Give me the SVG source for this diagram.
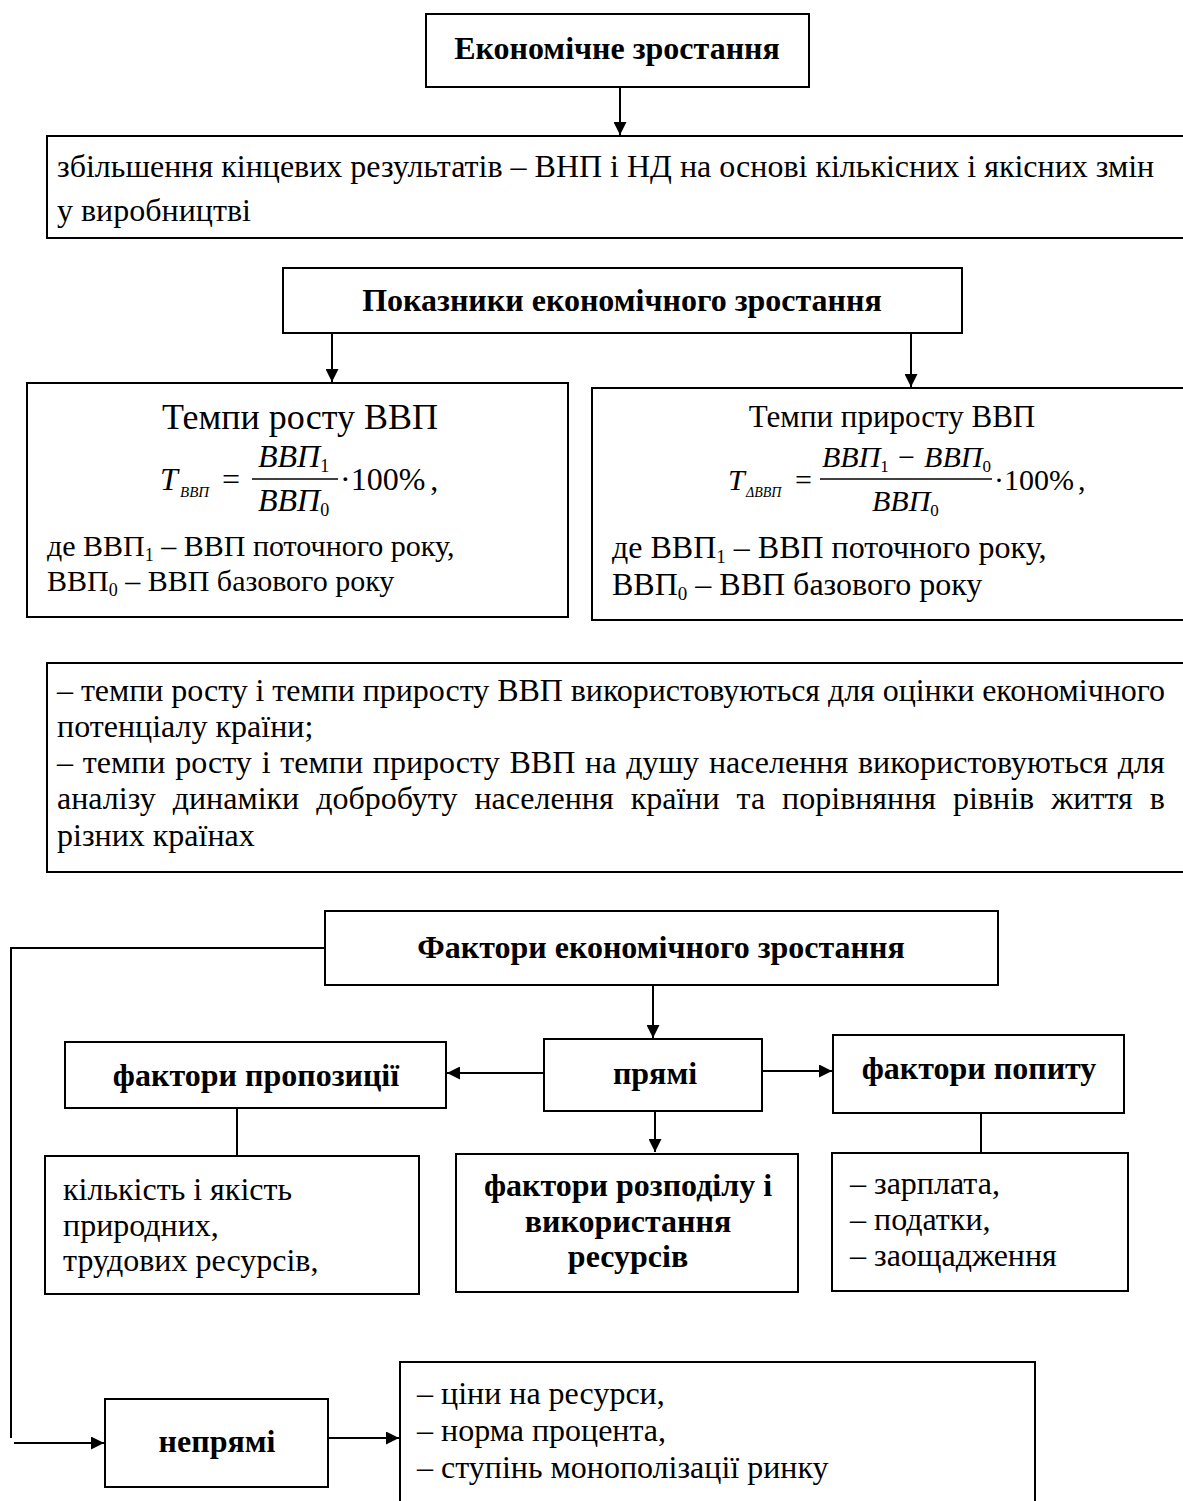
<svg xmlns="http://www.w3.org/2000/svg" width="1183" height="1501" viewBox="0 0 1183 1501">
<defs>
<style>
.box{fill:#fff;stroke:#000;stroke-width:2}
.t{font-family:"Liberation Serif","Times New Roman",serif;font-size:32px;fill:#000}
.b{font-family:"Liberation Serif","Times New Roman",serif;font-size:32px;font-weight:bold;fill:#000}
.i{font-family:"Liberation Serif","Times New Roman",serif;font-style:italic;fill:#000}
.c{text-anchor:middle}
.ln{stroke:#000;stroke-width:2;fill:none}
.sub{font-style:normal}
</style>
<marker id="ah" viewBox="0 0 10 10" refX="10" refY="5" markerWidth="14" markerHeight="13" markerUnits="userSpaceOnUse" orient="auto">
<path d="M0,0 L10,5 L0,10 z" fill="#000"/>
</marker>
</defs>
<rect width="1183" height="1501" fill="#fff"/>

<g id="connectors">
<line class="ln" x1="620" y1="88" x2="620" y2="135" marker-end="url(#ah)"/>
<line class="ln" x1="332" y1="333" x2="332" y2="382" marker-end="url(#ah)"/>
<line class="ln" x1="911" y1="333" x2="911" y2="387" marker-end="url(#ah)"/>
<polyline class="ln" points="325,948 11,948 11,1438"/>
<line class="ln" x1="14" y1="1443" x2="104" y2="1443" marker-end="url(#ah)"/>
<line class="ln" x1="653" y1="986" x2="653" y2="1038" marker-end="url(#ah)"/>
<line class="ln" x1="543" y1="1073" x2="447" y2="1073" marker-end="url(#ah)"/>
<line class="ln" x1="763" y1="1071" x2="832" y2="1071" marker-end="url(#ah)"/>
<line class="ln" x1="655" y1="1111" x2="655" y2="1152" marker-end="url(#ah)"/>
<line class="ln" x1="237" y1="1109" x2="237" y2="1156"/>
<line class="ln" x1="981" y1="1114" x2="981" y2="1153"/>
<line class="ln" x1="328" y1="1438" x2="399" y2="1438" marker-end="url(#ah)"/>
</g>

<g id="n-econ">
<rect class="box" x="426" y="14" width="383" height="73"/>
<text class="b c" x="617" y="59">Економічне зростання</text>
</g>

<g id="n-def">
<rect class="box" x="47" y="136" width="1140" height="102"/>
<text class="t" x="57" y="177">збільшення кінцевих результатів – ВНП і НД на основі кількісних і якісних змін</text>
<text class="t" x="57" y="221">у виробництві</text>
</g>

<g id="n-pokaz">
<rect class="box" x="283" y="268" width="679" height="65"/>
<text class="b c" x="622" y="311">Показники економічного зростання</text>
</g>

<g id="n-tempy">
<rect class="box" x="27" y="383" width="541" height="234"/>
<text class="t c" x="300" y="429" style="font-size:36px">Темпи росту ВВП</text>
<text class="i" x="160" y="490" style="font-size:32px">T</text>
<text class="i" x="180" y="497" style="font-size:15px">ВВП</text>
<text class="t" x="222" y="490">=</text>
<line x1="252" y1="479" x2="338" y2="479" stroke="#000" stroke-width="1.5"/>
<text class="i" x="258" y="467" style="font-size:32px">ВВП<tspan class="sub" style="font-size:18px" dy="5">1</tspan></text>
<text class="i" x="258" y="511" style="font-size:32px">ВВП<tspan class="sub" style="font-size:18px" dy="5">0</tspan></text>
<text class="t" x="340" y="490">·100%<tspan dx="5">,</tspan></text>
<text class="t" x="47" y="556" style="font-size:30px">де ВВП<tspan style="font-size:18px" dy="5">1</tspan><tspan dy="-5"> – ВВП поточного року,</tspan></text>
<text class="t" x="47" y="591" style="font-size:30px">ВВП<tspan style="font-size:18px" dy="5">0</tspan><tspan dy="-5"> – ВВП базового року</tspan></text>
</g>

<g id="n-pryrost">
<rect class="box" x="592" y="388" width="595" height="232"/>
<text class="t c" x="892" y="427" style="font-size:31px">Темпи приросту ВВП</text>
<text class="i" x="728" y="490" style="font-size:30px">T</text>
<text class="i" x="746" y="497" style="font-size:14px">ΔВВП</text>
<text class="t" x="795" y="490" style="font-size:30px">=</text>
<line x1="820" y1="479" x2="992" y2="479" stroke="#000" stroke-width="1.5"/>
<text class="i" x="822" y="467" style="font-size:30px">ВВП<tspan class="sub" style="font-size:17px" dy="5">1</tspan><tspan dy="-5"> − ВВП</tspan><tspan class="sub" style="font-size:17px" dy="5">0</tspan></text>
<text class="i" x="872" y="511" style="font-size:30px">ВВП<tspan class="sub" style="font-size:17px" dy="5">0</tspan></text>
<text class="t" x="994" y="490" style="font-size:30px">·100%<tspan dx="4">,</tspan></text>
<text class="t" x="612" y="558">де ВВП<tspan style="font-size:19px" dy="5">1</tspan><tspan dy="-5"> – ВВП поточного року,</tspan></text>
<text class="t" x="612" y="595">ВВП<tspan style="font-size:19px" dy="5">0</tspan><tspan dy="-5"> – ВВП базового року</tspan></text>
</g>

<g id="n-use">
<rect class="box" x="47" y="663" width="1140" height="209"/>
<text class="t" x="57" y="701" textLength="1108" lengthAdjust="spacing">– темпи росту і темпи приросту ВВП використовуються для оцінки економічного</text>
<text class="t" x="57" y="737">потенціалу країни;</text>
<text class="t" x="57" y="773" style="word-spacing:1.8px">– темпи росту і темпи приросту ВВП на душу населення використовуються для</text>
<text class="t" x="57" y="809" style="word-spacing:9px">аналізу динаміки добробуту населення країни та порівняння рівнів життя в</text>
<text class="t" x="57" y="846">різних країнах</text>
</g>

<g id="n-factors">
<rect class="box" x="325" y="911" width="673" height="74"/>
<text class="b c" x="661" y="958">Фактори економічного зростання</text>
</g>

<g id="n-pryami">
<rect class="box" x="544" y="1039" width="218" height="72"/>
<text class="b c" x="655" y="1084">прямі</text>
</g>

<g id="n-propoz">
<rect class="box" x="65" y="1042" width="381" height="66"/>
<text class="b c" x="256" y="1086">фактори пропозиції</text>
</g>

<g id="n-popyt">
<rect class="box" x="833" y="1035" width="291" height="78"/>
<text class="b c" x="979" y="1079">фактори попиту</text>
</g>

<g id="n-kilk">
<rect class="box" x="45" y="1156" width="374" height="138"/>
<text class="t" x="63" y="1200">кількість і якість</text>
<text class="t" x="63" y="1236">природних,</text>
<text class="t" x="63" y="1271">трудових ресурсів,</text>
</g>

<g id="n-rozpod">
<rect class="box" x="456" y="1154" width="342" height="138"/>
<text class="b c" x="628" y="1196">фактори розподілу і</text>
<text class="b c" x="628" y="1232">використання</text>
<text class="b c" x="628" y="1267">ресурсів</text>
</g>

<g id="n-popyt-list">
<rect class="box" x="832" y="1153" width="296" height="138"/>
<text class="t" x="850" y="1194">– зарплата,</text>
<text class="t" x="850" y="1230">– податки,</text>
<text class="t" x="850" y="1266">– заощадження</text>
</g>

<g id="n-nepryami">
<rect class="box" x="105" y="1399" width="223" height="88"/>
<text class="b c" x="217" y="1452">непрямі</text>
</g>

<g id="n-nepr-list">
<rect class="box" x="400" y="1362" width="635" height="150"/>
<text class="t" x="417" y="1404">– ціни на ресурси,</text>
<text class="t" x="417" y="1441">– норма процента,</text>
<text class="t" x="417" y="1478">– ступінь монополізації ринку</text>
</g>
</svg>
